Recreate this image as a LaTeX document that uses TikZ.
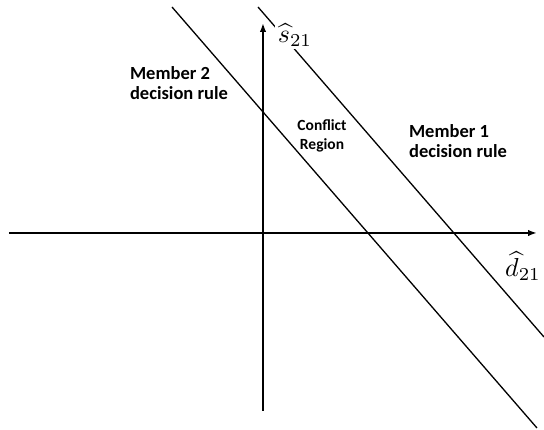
\documentclass[tikz,border=0pt]{standalone}
\usepackage{fontspec}
\setmainfont{Carlito}
\usetikzlibrary{arrows.meta}
\begin{document}
\begin{tikzpicture}[x=1pt,y=1pt,
  axis/.style={line width=1.8pt, -{Latex[length=9pt,width=6.5pt]}},
  rule/.style={line width=1.3pt},
  lab/.style={font=\bfseries\fontsize{18.5}{20.5}\selectfont, align=left},
  mathlab/.style={fill=white, inner sep=1pt, scale=2.6, transform shape}]
  \useasboundingbox (-263,-197) rectangle (281,233);
  \draw[axis] (-254,0) -- (274,0);
  \draw[axis] (0,-178) -- (0,210);
  % the two decision rules
  \draw[rule] (-91,226) -- (274,-195);
  \draw[rule] (-5,226) -- (281,-104);
  \node[mathlab] (s21) at (32,198) {$\widehat{s}_{21}$};
  \node[mathlab] (d21) at (260,-33) {$\widehat{d}_{21}$};
  \node[lab] (member2) at (-84,150) {Member 2\\decision rule};
  \node[lab] (member1) at (195,92) {Member 1\\decision rule};
  \node[font=\bfseries\fontsize{15.5}{18.5}\selectfont, align=center] (conflict) at (59,97) {Conflict\\Region};
\end{tikzpicture}
\end{document}
